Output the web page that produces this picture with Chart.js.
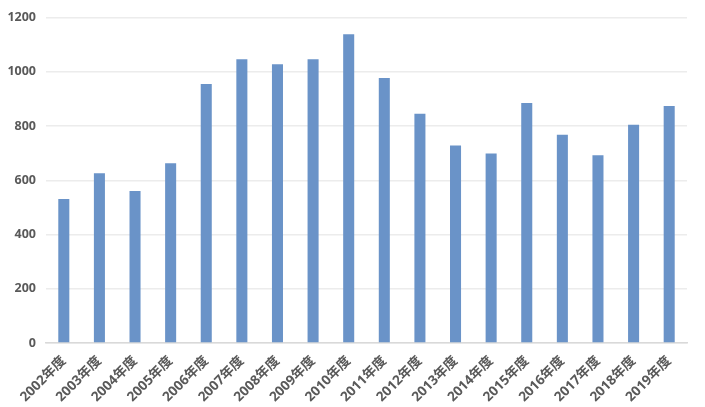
<!DOCTYPE html>
<html>
<head>
<meta charset="utf-8">
<script src="https://cdn.jsdelivr.net/npm/chart.js@4/dist/chart.umd.min.js"></script>
<style>
  html, body { margin: 0; padding: 0; background: #fff; }
  #wrap { width: 705px; height: 407px; }
</style>
</head>
<body>
<div id="wrap"><canvas id="myChart" width="705" height="407"></canvas></div>
<script>
const years = ['2002年度', '2003年度', '2004年度', '2005年度', '2006年度', '2007年度',
  '2008年度', '2009年度', '2010年度', '2011年度', '2012年度', '2013年度',
  '2014年度', '2015年度', '2016年度', '2017年度', '2018年度', '2019年度'];
const counts = [531, 626, 560, 663, 955, 1046, 1028, 1046, 1138, 977, 845, 728,
  699, 885, 768, 692, 805, 874];
const yTicks = [0, 200, 400, 600, 800, 1000, 1200];

const fontFamily = "'Open Sans', 'Noto Sans CJK JP', sans-serif";

const ctx = document.getElementById('myChart').getContext('2d');

new Chart(ctx, {
  type: 'bar',
  data: {
    labels: years,
    datasets: [
      {
        data: counts,
        backgroundColor: '#6a93c8',
        barPercentage: 0.31,
        categoryPercentage: 1,
      },
    ],
  },
  options: {
    responsive: false,
    animation: false,
    layout: {
      padding: { top: 15, right: 18, left: 0, bottom: 0 },
    },
    scales: {
      x: {
        grid: { display: false },
        border: { display: true, color: '#d9d9d9', width: 1.5 },
        ticks: {
          color: '#595959',
          font: { family: fontFamily, size: 13.5, weight: 'bold' },
          minRotation: 45,
          maxRotation: 45,
          padding: 2,
        },
        afterFit: (scale) => {
          scale.height = 64;
        },
      },
      y: {
        min: 0,
        max: 1200,
        afterBuildTicks: (scale) => {
          scale.ticks = yTicks.map((v) => ({ value: v }));
        },
        grid: { color: '#ececec', lineWidth: 1.5, drawTicks: false },
        border: { display: false },
        ticks: {
          color: '#595959',
          font: { family: fontFamily, size: 12.5, weight: 'bold' },
          padding: 10,
          callback: (value) => String(value),
        },
        afterFit: (scale) => {
          scale.width = 46;
        },
      },
    },
    plugins: {
      legend: { display: false },
      tooltip: { enabled: false },
    },
  },
});
</script>
</body>
</html>
